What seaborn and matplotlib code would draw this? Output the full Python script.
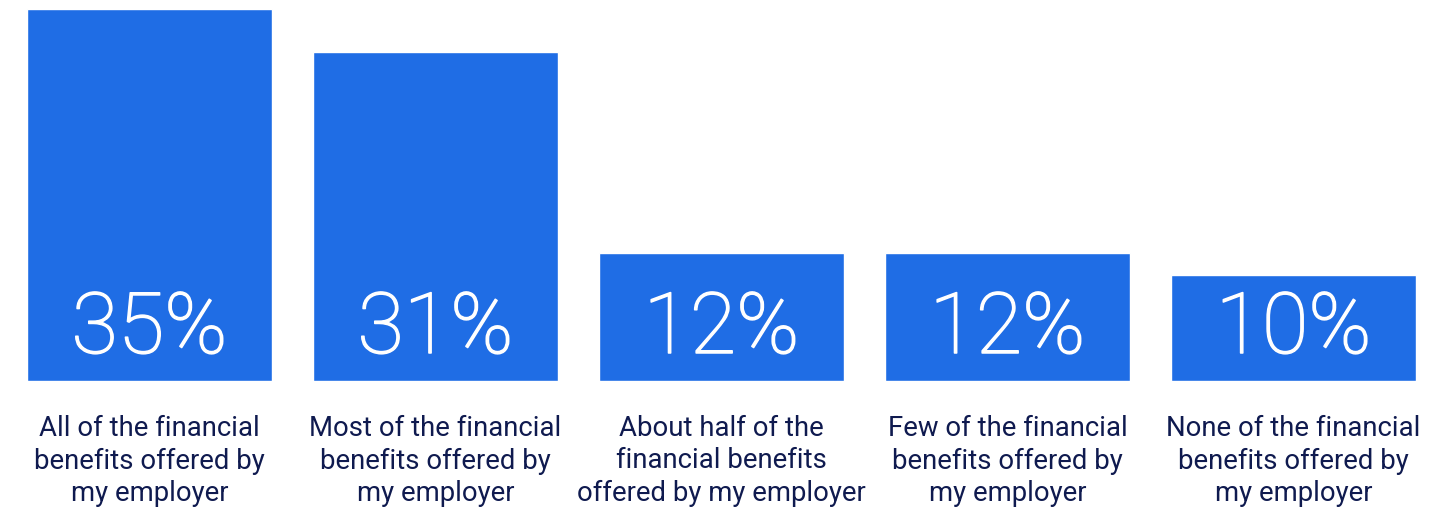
import matplotlib
matplotlib.use("Agg")
import matplotlib.pyplot as plt
import matplotlib.transforms as mtransforms
import matplotlib.patheffects as pe
import seaborn as sns
import pandas as pd

categories = [
    "All of the financial\nbenefits offered by\nmy employer",
    "Most of the financial\nbenefits offered by\nmy employer",
    "About half of the\nfinancial benefits\noffered by my employer",
    "Few of the financial\nbenefits offered by\nmy employer",
    "None of the financial\nbenefits offered by\nmy employer",
]
values = [35, 31, 12, 12, 10]
value_labels = ["35%", "31%", "12%", "12%", "10%"]

BAR_COLOR = "#1F6DE5"
TEXT_COLOR = "#0F1A4F"

sns.set_theme(style="white")
plt.rcParams["font.family"] = ["Roboto", "DejaVu Sans"]

W, H, DPI = 1455, 508, 100
fig = plt.figure(figsize=(W / DPI, H / DPI), dpi=DPI)
ax = fig.add_axes([6.5 / W, 127 / H, 1430 / W, 372 / H])

df = pd.DataFrame({"category": categories, "value": values})
sns.barplot(data=df, x="category", y="value", color=BAR_COLOR,
            saturation=1, width=0.855, ax=ax)

ax.set_xlim(-0.5, len(categories) - 0.5)
ax.set_ylim(0, 35)
ax.set_xticks([])
ax.set_yticks([])
ax.set_xlabel("")
ax.set_ylabel("")
sns.despine(ax=ax, left=True, bottom=True)

# value labels sit at a fixed height above the baseline, inside each bar
for i, lbl in enumerate(value_labels):
    ax.annotate(lbl, xy=(i, 0), xytext=(0, 28 * 72 / DPI),
                textcoords="offset points", ha="center", va="baseline",
                color="white", fontsize=61, fontweight="light",
                path_effects=[pe.withStroke(linewidth=1.1, foreground="white")])

# category labels below the bars
trans = mtransforms.blended_transform_factory(ax.transData, fig.transFigure)
for i, cat in enumerate(categories):
    ax.text(i, (H - 461) / H, cat, transform=trans, ha="center", va="center",
            color=TEXT_COLOR, fontsize=19.8, linespacing=1.27)

fig.savefig("out.png", dpi=DPI, facecolor="white")
